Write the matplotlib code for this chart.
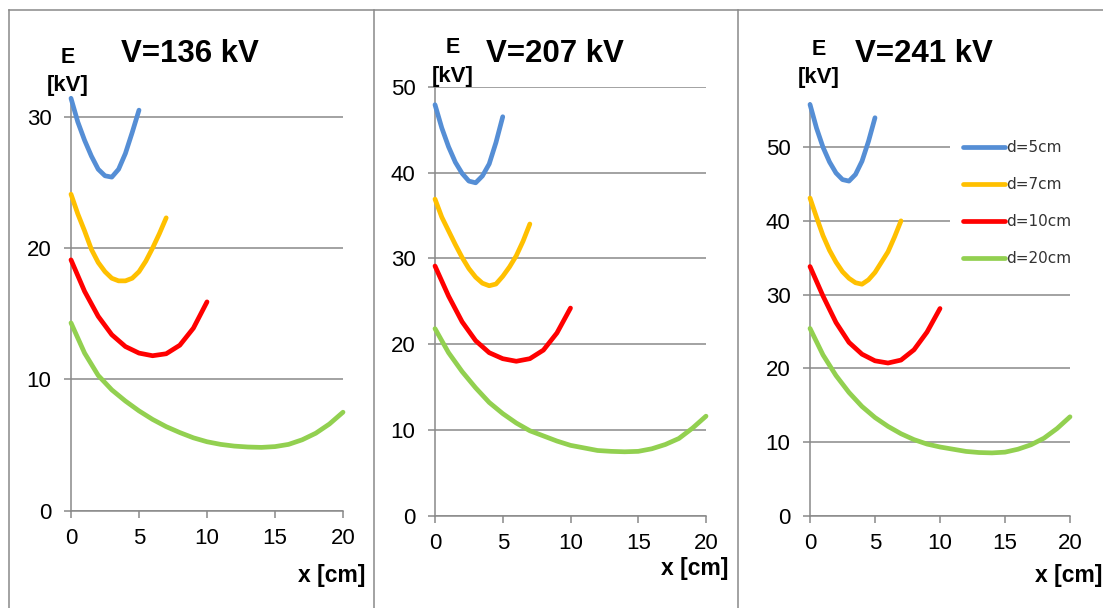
import matplotlib
matplotlib.use("Agg")
import matplotlib.pyplot as plt
from matplotlib.lines import Line2D

plt.rcParams['font.family'] = ['Liberation Sans', 'DejaVu Sans']

# ---------------- data ----------------
labels = ["d=5cm", "d=7cm", "d=10cm", "d=20cm"]
colors = ["#558ED5", "#FFC000", "#FF0000", "#92D050"]
titles = ["V=136 kV", "V=207 kV", "V=241 kV"]

x_d5 = [0, 0.5, 1, 1.5, 2, 2.5, 3, 3.5, 4, 4.5, 5]
x_d7 = [0, 0.5, 1, 1.5, 2, 2.5, 3, 3.5, 4, 4.5, 5, 5.5, 6, 6.5, 7]
x_d10 = [0, 1, 2, 3, 4, 5, 6, 7, 8, 9, 10]
x_d20 = [0, 1, 2, 3, 4, 5, 6, 7, 8, 9, 10, 11, 12, 13, 14, 15, 16, 17, 18, 19, 20]

# V = 136 kV
e136_d5 = [31.4, 29.6, 28.2, 27.0, 26.0, 25.5, 25.4, 26.0, 27.2, 28.8, 30.5]
e136_d7 = [24.1, 22.6, 21.3, 19.9, 18.9, 18.2, 17.7, 17.5, 17.5, 17.7, 18.2, 19.0, 20.0, 21.1, 22.3]
e136_d10 = [19.1, 16.7, 14.8, 13.4, 12.5, 12.0, 11.8, 11.95, 12.6, 13.9, 15.9]
e136_d20 = [14.3, 12.0, 10.3, 9.2, 8.35, 7.6, 6.95, 6.4, 5.95, 5.55, 5.25, 5.05, 4.92, 4.85,
            4.82, 4.88, 5.05, 5.4, 5.9, 6.6, 7.5]

# V = 207 kV
e207_d5 = [47.9, 45.2, 43.0, 41.2, 39.9, 39.0, 38.8, 39.6, 41.0, 43.5, 46.5]
e207_d7 = [36.9, 34.8, 33.2, 31.6, 30.1, 28.8, 27.8, 27.1, 26.8, 27.0, 27.9, 29.0, 30.3, 32.0, 34.0]
e207_d10 = [29.1, 25.6, 22.6, 20.4, 19.0, 18.3, 18.0, 18.3, 19.3, 21.3, 24.2]
e207_d20 = [21.8, 19.0, 16.8, 14.9, 13.2, 11.9, 10.8, 9.9, 9.3, 8.7, 8.2, 7.9, 7.6, 7.5,
            7.45, 7.5, 7.8, 8.3, 9.0, 10.2, 11.6]

# V = 241 kV
e241_d5 = [55.8, 52.6, 50.0, 48.0, 46.5, 45.6, 45.4, 46.3, 48.1, 50.8, 54.0]
e241_d7 = [43.1, 40.5, 38.0, 36.0, 34.4, 33.1, 32.2, 31.6, 31.4, 32.0, 33.0, 34.4, 35.8, 37.8, 40.0]
e241_d10 = [33.8, 29.8, 26.2, 23.5, 21.9, 21.0, 20.7, 21.1, 22.5, 24.9, 28.1]
e241_d20 = [25.4, 21.8, 19.0, 16.7, 14.8, 13.3, 12.1, 11.1, 10.3, 9.7, 9.3, 9.0, 8.7, 8.55,
            8.5, 8.6, 9.0, 9.6, 10.5, 11.8, 13.4]

xs = [x_d5, x_d7, x_d10, x_d20]
panels = [
    [e136_d5, e136_d7, e136_d10, e136_d20],
    [e207_d5, e207_d7, e207_d10, e207_d20],
    [e241_d5, e241_d7, e241_d10, e241_d20],
]
y_ticks = [[0, 10, 20, 30], [0, 10, 20, 30, 40, 50], [0, 10, 20, 30, 40, 50]]
y_tops = [31.5, 50, 56]
x_ticks = [0, 5, 10, 15, 20]

# ---------------- layout ----------------
W, H = 1103, 608
fig = plt.figure(figsize=(W / 100, H / 100), dpi=100)
GRID = "#898989"

def fx(px):
    return px / W

def fy(py):
    return 1 - py / H

# axes boxes in pixel coords: (left, right, top, bottom)
boxes = [(71, 343, 97, 510.7), (435, 706, 86.7, 515.7), (810, 1070, 103, 515.5)]
title_x = [190, 555, 924]
e_x = [67.5, 453, 819]
e_base = [63, 53, 55]
kv_base = [91, 82, 83]
xl_right = [365, 728, 1102]
xl_base = [582, 575, 582]

axes = []
for i, (l, r, t, b) in enumerate(boxes):
    ax = fig.add_axes([fx(l), fy(b), fx(r) - fx(l), fy(t) - fy(b)])
    axes.append(ax)
    for j in range(4):
        ax.plot(xs[j], panels[i][j], color=colors[j], lw=3.4, label=labels[j],
                clip_on=False, zorder=3, solid_capstyle='round',
                solid_joinstyle='round')
    ax.set_xlim(0, 20)
    ax.set_ylim(0, y_tops[i])
    ax.set_xticks(x_ticks)
    ax.set_yticks(y_ticks[i])
    ax.yaxis.grid(True, color=GRID, lw=1.1)
    ax.set_axisbelow(True)
    for s in ["top", "right"]:
        ax.spines[s].set_visible(False)
    for s in ["left", "bottom"]:
        ax.spines[s].set_color(GRID)
        ax.spines[s].set_linewidth(1.1)
    ax.tick_params(axis='both', direction='out', length=5, width=1.1, color=GRID,
                   labelsize=16, labelcolor='black')
    ax.tick_params(axis='y', pad=9)
    ax.tick_params(axis='x', pad=7.5)

    fig.text(fx(title_x[i]), fy(62), titles[i], fontsize=22.5, fontweight='bold',
             ha='center', va='baseline')
    fig.text(fx(e_x[i]), fy(e_base[i]), "E", fontsize=15.5, fontweight='bold',
             ha='center', va='baseline')
    fig.text(fx(e_x[i]), fy(kv_base[i]), "[kV]", fontsize=16, fontweight='bold',
             ha='center', va='baseline')
    fig.text(fx(xl_right[i]), fy(xl_base[i]), "x [cm]", fontsize=16.5, fontweight='bold',
             ha='right', va='baseline')

leg = axes[2].legend(loc='upper left', bbox_to_anchor=(fx(950), fy(127)),
                     bbox_transform=fig.transFigure, borderaxespad=0,
                     frameon=True, fancybox=False, framealpha=1, facecolor='white',
                     edgecolor='none', borderpad=0.85, labelspacing=1.45,
                     handlelength=2.75, handletextpad=0.05,
                     prop={'family': 'DejaVu Sans', 'size': 11})
for t in leg.get_texts():
    t.set_color('#333333')
leg.set_zorder(10)

# outer frame lines of the composed figure
line_kw = dict(color=GRID, lw=1.1, transform=fig.transFigure)
fig.add_artist(Line2D([fx(9), fx(W)], [fy(10), fy(10)], **line_kw))
fig.add_artist(Line2D([fx(9), fx(9)], [fy(10), fy(H)], **line_kw))
fig.add_artist(Line2D([fx(374), fx(374)], [fy(10), fy(H)], **line_kw))
fig.add_artist(Line2D([fx(737.5), fx(737.5)], [fy(10), fy(H)], **line_kw))

fig.savefig("out.png", dpi=100, facecolor='white')
